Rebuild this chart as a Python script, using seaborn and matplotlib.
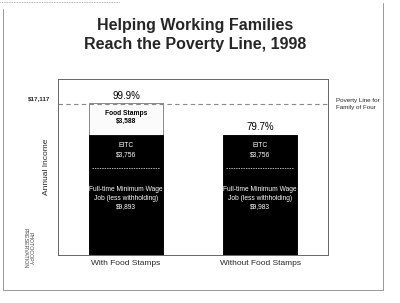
import matplotlib
matplotlib.use("Agg")
import matplotlib.pyplot as plt
import seaborn as sns
import pandas as pd
from matplotlib.patches import Rectangle
from matplotlib.lines import Line2D

# ---- data ----
categories = ["With Food Stamps", "Without Food Stamps"]
wage = [9893, 9893]
eitc = [3756, 3756]
food_stamps = [3588, 0]
wage_labels = ["$9,893", "$9,983"]
eitc_labels = ["$3,756", "$3,756"]
fs_labels = ["$3,588", ""]
pct_labels = ["99.9%", "79.7%"]
poverty_line = 17117
poverty_label = "$17,117"

sns.set_theme(style="white")
plt.rcParams["font.family"] = ["Liberation Sans", "DejaVu Sans"]

fig = plt.figure(figsize=(4.0, 3.03), dpi=100)
ax = fig.add_axes([0.145, 0.158, 0.675, 0.581])

df = pd.DataFrame({
    "cat": categories,
    "wage": wage,
    "eitc_top": [w + e for w, e in zip(wage, eitc)],
    "fs_top": [w + e + f for w, e, f in zip(wage, eitc, food_stamps)],
})

bw = 0.55
sns.barplot(data=df, x="cat", y="fs_top", order=categories, color="#fbfbfb",
            edgecolor="#777777", linewidth=0.6, width=bw, ax=ax, saturation=1)
sns.barplot(data=df, x="cat", y="eitc_top", order=categories, color="black",
            edgecolor="black", linewidth=0.6, width=bw, ax=ax, saturation=1)

for i in range(len(categories)):
    ax.hlines(wage[i], i - bw / 2 + 0.02, i + bw / 2 - 0.02, colors="white",
              linestyles=(0, (2, 1.5)), linewidth=0.5)
    ax.text(i, wage[i] / 2 + 1500,
            "Full-time Minimum Wage\nJob (less withholding)\n" + wage_labels[i],
            ha="center", va="center", color="white", fontsize=4.8, linespacing=1.3)
    ax.text(i, wage[i] + eitc[i] / 2 + 150, "EITC\n" + eitc_labels[i],
            ha="center", va="center", color="white", fontsize=4.8, linespacing=1.3)
    if food_stamps[i] > 0:
        ax.text(i, wage[i] + eitc[i] + food_stamps[i] / 2 + 150,
                "Food Stamps\n" + fs_labels[i], ha="center", va="center",
                color="black", fontsize=4.8, linespacing=1.3, fontweight="bold")
    top = wage[i] + eitc[i] + food_stamps[i]
    ax.text(i, top + 250, pct_labels[i], ha="center", va="bottom",
            fontsize=7, color="black")

ax.axhline(poverty_line, color="#888888", linestyle=(0, (4, 3)), linewidth=0.8,
           clip_on=False)

ax.set_xlim(-0.507, 1.507)
ax.set_ylim(0, 19950)
ax.set_yticks([])
ax.set_xticks([0.5])
ax.set_xticklabels([""])
ax.tick_params(axis="x", length=4, width=0.6, color="#444444", direction="inout")
ax.set_xlabel("")
ax.set_ylabel("Annual Income", fontsize=6, labelpad=6)
for x, lab in enumerate(categories):
    ax.text(x, -500, lab, ha="center", va="top", fontsize=6)

for s in ax.spines.values():
    s.set_color("#666666")
    s.set_linewidth(0.7)

ax.text(-0.03, poverty_line + 300, poverty_label, transform=ax.get_yaxis_transform(),
        ha="right", va="bottom", fontsize=4.5, fontweight="bold")
ax.text(1.03, poverty_line, "Poverty Line for\nFamily of Four",
        transform=ax.get_yaxis_transform(), ha="left", va="center",
        fontsize=4.5, linespacing=1.3)

fig.text(0.4875, 0.915, "Helping Working Families", ha="center", va="center",
         fontsize=11.5, fontweight="bold")
fig.text(0.4875, 0.853, "Reach the Poverty Line, 1998", ha="center", va="center",
         fontsize=11.5, fontweight="bold")

fig.text(0.07, 0.18, "PHOTOCOPY\nPRESERVATION", rotation=-90, ha="center",
         va="center", fontsize=3.8, color="#444444", linespacing=1.0)

# scanned page frame (left, bottom, right edges)
fig.lines.append(Line2D([0.008, 0.008, 0.958, 0.958], [0.97, 0.043, 0.043, 0.99],
                        transform=fig.transFigure, color="#888888", linewidth=0.6))
fig.lines.append(Line2D([0.0, 0.3], [0.995, 0.995], transform=fig.transFigure,
                        color="#999999", linewidth=0.6, linestyle=(0, (1, 1))))

fig.savefig("out.png", dpi=100)
